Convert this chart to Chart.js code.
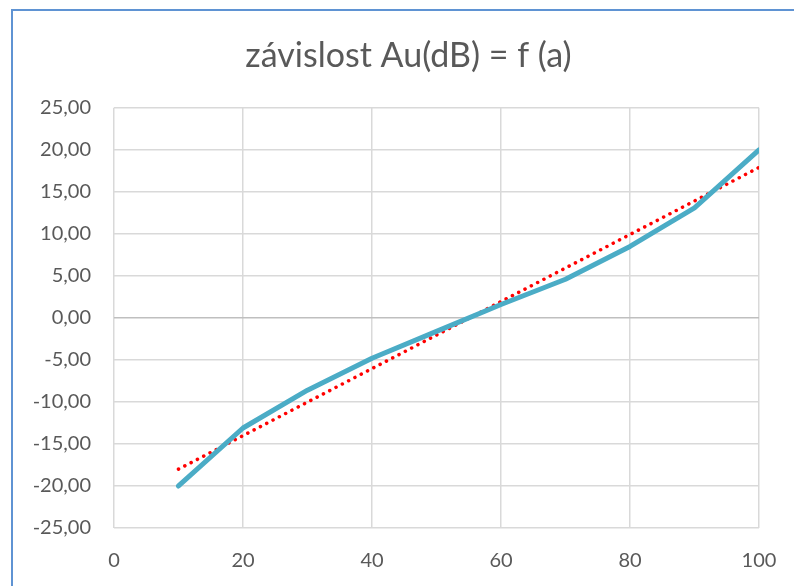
<!DOCTYPE html>
<html>
<head>
<meta charset="utf-8">
<script src="https://cdn.jsdelivr.net/npm/chart.js@4/dist/chart.umd.min.js"></script>
<style>
    body { margin: 0; background: #fff; }
    #wrap { position: relative; width: 794px; height: 586px; overflow: hidden; }
    #frame {
        position: absolute; left: 11px; top: 9px; width: 800px; height: 600px;
        border-left: 2px solid #5f93d3; border-top: 2px solid #5f93d3;
        pointer-events: none;
    }
    canvas { position: absolute; left: 0; top: 0; }
</style>
</head>
<body>
<div id="wrap">
    <canvas id="chart" width="794" height="586"></canvas>
    <div id="frame"></div>
</div>
<script>
const aValues = [10, 20, 30, 40, 50, 60, 70, 80, 90, 100];
const auDb = [-20.0, -13.1, -8.6, -4.8, -1.6, 1.6, 4.6, 8.5, 13.1, 20.0];
// lineární spojnice trendu
const trendA = [10, 100];
const trendDb = [-18.0, 17.9];

const toPoints = (xs, ys) => xs.map((x, i) => ({ x: x, y: ys[i] }));
const grey = '#595959';

// nadpis je v Excelu vystředěný přes celý rámeček, ne přes graf
const shiftTitle = {
    id: 'shiftTitle',
    afterLayout(chart) {
        const t = chart.titleBlock;
        if (t) { t.left += 19; t.right += 19; }
    }
};

const ctx = document.getElementById('chart').getContext('2d');
new Chart(ctx, {
    type: 'line',
    data: {
        datasets: [
            {
                label: 'Au(dB)',
                data: toPoints(aValues, auDb),
                borderColor: '#4bacc6',
                borderWidth: 5,
                pointRadius: 0,
                fill: false,
                tension: 0,
                borderJoinStyle: 'round',
                borderCapStyle: 'round'
            },
            {
                label: 'trend',
                data: toPoints(trendA, trendDb),
                borderColor: '#ff0000',
                borderWidth: 3.5,
                borderDash: [0.1, 7],
                borderCapStyle: 'round',
                pointRadius: 0,
                fill: false
            }
        ]
    },
    plugins: [shiftTitle],
    options: {
        responsive: false,
        animation: false,
        layout: { padding: { left: 20, right: 35, top: 0, bottom: 0 } },
        plugins: {
            legend: { display: false },
            tooltip: { enabled: false },
            title: {
                display: true,
                text: 'závislost Au(dB) = f (a)',
                color: grey,
                font: { family: 'Lato', size: 34, weight: 'normal' },
                padding: { top: 36, bottom: 31 }
            }
        },
        scales: {
            x: {
                type: 'linear',
                min: 0,
                max: 100,
                ticks: {
                    stepSize: 20,
                    color: grey,
                    font: { family: 'Lato', size: 20 },
                    padding: 21
                },
                grid: { color: '#d9d9d9', lineWidth: 1.5, drawTicks: false },
                border: { display: false },
                afterFit: s => {
                    s.height = 58;
                    s.paddingLeft = 0;
                    s.paddingRight = 0;
                }
            },
            y: {
                min: -25,
                max: 25,
                ticks: {
                    stepSize: 5,
                    color: grey,
                    font: { family: 'Lato', size: 20 },
                    padding: 23,
                    callback: v => v.toFixed(2).replace('.', ',')
                },
                grid: {
                    color: c => c.tick && c.tick.value === 0 ? '#bfbfbf' : '#d9d9d9',
                    lineWidth: 1.5,
                    drawTicks: false
                },
                border: { display: false },
                afterFit: s => { s.width = 94; }
            }
        }
    }
});
</script>
</body>
</html>
